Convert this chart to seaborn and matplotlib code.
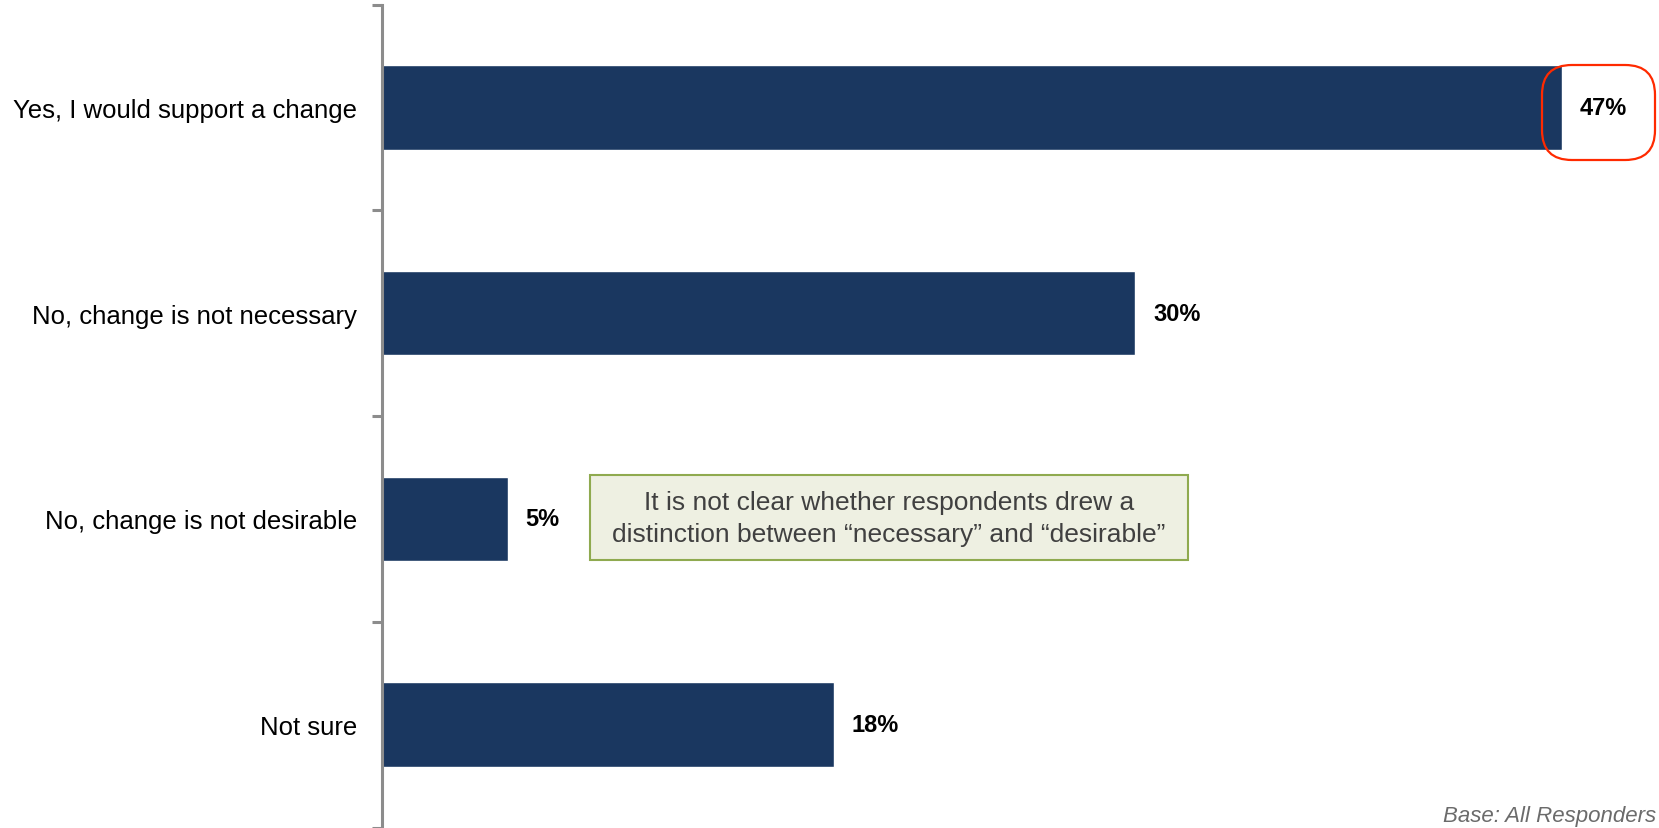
import pandas as pd
import matplotlib
matplotlib.use("Agg")
import matplotlib.pyplot as plt
from matplotlib.patches import FancyBboxPatch, Rectangle
from matplotlib.ticker import FixedLocator
import seaborn as sns

# survey answers and share of respondents (%)
answers = ["Yes, I would support a change", "No, change is not necessary",
           "No, change is not desirable", "Not sure"]
shares = [47, 30, 5, 18]
note = "It is not clear whether respondents drew a\ndistinction between \u201cnecessary\u201d and \u201cdesirable\u201d"
base_text = "Base: All Responders"

df = pd.DataFrame({"answer": answers, "share": shares})

sns.set_style("white")
plt.rcParams['font.family'] = ['Liberation Sans', 'DejaVu Sans']

fig = plt.figure(figsize=(16.59, 8.29), dpi=100)
ax = fig.add_axes([382 / 1659, 0.5 / 829, 1255 / 1659, 823 / 829])

sns.barplot(data=df, x="share", y="answer", orient="h", color="#1a3760",
            width=0.41, saturation=1, ax=ax)
ax.set_xlim(0, 50)
ax.set_ylim(len(answers) - 0.5, -0.5)

# value labels on the bars
ax.bar_label(ax.containers[0], labels=[f"{v}%" for v in shares],
             padding=13, fontsize=17, fontweight="bold", color="black")

# axes styling: only the left spine, ticks between categories
for side in ["top", "right", "bottom"]:
    ax.spines[side].set_visible(False)
ax.spines["left"].set_color("#8c8c8c")
ax.spines["left"].set_linewidth(2.2)
ax.set_xticks([])
ax.set_xlabel("")
ax.set_ylabel("")
ax.tick_params(axis="y", which="major", length=0, pad=18, labelsize=18.5, labelcolor="black")
ax.yaxis.set_minor_locator(FixedLocator([i - 0.5 for i in range(len(answers) + 1)]))
ax.tick_params(axis="y", which="minor", length=7, width=2.2, color="#8c8c8c", left=True)

# red rounded callout around the top value
callout = FancyBboxPatch((1542 / 1659, 1 - 161 / 829), 113 / 1659, 95 / 829,
                         boxstyle="round,pad=0,rounding_size=0.018",
                         transform=fig.transFigure, fill=False,
                         edgecolor="#ff2a00", linewidth=1.6, mutation_aspect=2)
fig.patches.append(callout)

# green note box
box = Rectangle((590 / 1659, 1 - 561 / 829), 598 / 1659, 85 / 829,
                transform=fig.transFigure, facecolor="#eef0e2",
                edgecolor="#8faa4f", linewidth=1.5)
fig.patches.append(box)
fig.text(0.5 * (590 + 1188) / 1659, 1 - 519 / 829, note,
         ha="center", va="center", fontsize=19, color="#404040", linespacing=1.4)

fig.text(1443 / 1659, 7 / 829, base_text, ha="left", va="baseline",
         fontsize=16, style="italic", color="#6b6b6b")

fig.savefig("out.png", dpi=100)
